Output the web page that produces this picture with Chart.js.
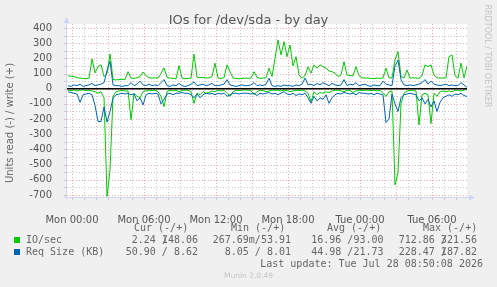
<!DOCTYPE html>
<html>
<head>
<meta charset="utf-8">
<title>IOs for /dev/sda - by day</title>
<script src="https://cdn.jsdelivr.net/npm/chart.js@4.4.1/dist/chart.umd.min.js"></script>
<style>
  body { margin: 0; background: #f0f0f0; }
  #wrap { position: relative; width: 497px; height: 287px; overflow: hidden; background: #f0f0f0; color: #666; font-family: "DejaVu Sans", sans-serif; }
  #chart { position: absolute; left: 0; top: 0; }
  .t { position: absolute; white-space: pre; line-height: 1; }
  .mono { font-family: "DejaVu Sans Mono", monospace; font-size: 10px; }
  .box { position: absolute; width: 6px; height: 6px; }
</style>
</head>
<body>
<div id="wrap">
  <canvas id="chart" width="497" height="287"></canvas>
  <div class="t" style="left:0;width:497px;top:13px;text-align:center;font-size:13px;color:#555">IOs for /dev/sda - by day</div>
  <div class="t" style="left:-90px;top:118px;width:200px;height:10px;font-size:10px;text-align:center;transform:rotate(-90deg)">Units read (-) / write (+)</div>
  <div class="t" style="left:387px;top:52px;width:200px;height:8px;font-size:8px;text-align:center;color:#c4c4c4;transform:rotate(90deg)">RRDTOOL / TOBI OETIKER</div>
  <div id="legend"></div>
  <div class="t mono" style="right:14px;top:258.5px">Last update: Tue Jul 28 08:50:08 2026</div>
  <div class="t" style="left:0;width:497px;text-align:center;top:272px;font-size:7.5px;color:#c4c4c4">Munin 2.0.49</div>
</div>
<script>
  /* =========================
     DATOS (cada 15 min, desde Mon 00:00 - 20 min)
  ==========================*/
  const startHour = -0.33;
  const stepHour = 0.25;

  const ioWrite = [
    85, 82, 80, 72, 70, 68, 65, 70, 196, 104,
    145, 157, 80, 100, 229, 60, 58, 60, 62, 60,
    112, 70, 68, 72, 80, 110, 85, 72, 70, 72,
    70, 100, 137, 75, 70, 68, 65, 152, 70, 65,
    68, 70, 227, 75, 72, 75, 70, 72, 80, 168,
    70, 68, 72, 157, 112, 70, 68, 65, 68, 70,
    68, 70, 112, 75, 68, 70, 72, 135, 80, 200,
    321, 222, 310, 211, 288, 150, 211, 91, 69, 85,
    145, 102, 157, 135, 157, 145, 135, 117, 112, 102,
    80, 91, 178, 90, 88, 85, 145, 85, 72, 70,
    70, 68, 66, 70, 68, 72, 135, 72, 70, 190,
    244, 80, 70, 124, 70, 72, 70, 68, 85, 157,
    145, 157, 91, 72, 70, 70, 72, 211, 222, 85,
    70, 168, 72, 148
  ];
  const ioRead = [
    -10, -12, -8, -15, -10, -8, -12, -10, -15, -20,
    -30, -20, -60, -710, -534, -50, -20, -15, -10, -15,
    -15, -205, -30, -50, -60, -20, -15, -10, -12, -10,
    -20, -50, -118, -20, -10, -15, -10, -20, -12, -10,
    -10, -20, -96, -30, -40, -20, -30, -25, -15, -20,
    -10, -15, -10, -30, -50, -20, -10, -12, -10, -8,
    -10, -12, -40, -20, -10, -12, -20, -15, -10, -10,
    -10, -15, -10, -12, -20, -15, -10, -12, -10, -15,
    -30, -85, -20, -40, -25, -30, -20, -25, -15, -10,
    -10, -15, -20, -10, -12, -25, -15, -10, -12, -10,
    -10, -12, -10, -15, -10, -30, -50, -20, -15, -633,
    -555, -100, -30, -15, -12, -10, -15, -239, -40, -30,
    -40, -230, -30, -50, -20, -15, -20, -15, -20, -10,
    -10, -15, -10, -2
  ];
  const sizeWrite = [
    20, 15, 25, 20, 30, 15, 20, 25, 35, 20,
    25, 30, 40, 120, 180, 25, 20, 20, 15, 20,
    20, 40, 20, 30, 50, 25, 20, 30, 20, 25,
    20, 40, 60, 20, 15, 25, 20, 35, 20, 15,
    20, 30, 45, 20, 25, 30, 20, 25, 35, 20,
    20, 25, 30, 60, 25, 20, 15, 20, 25, 20,
    20, 25, 40, 20, 25, 20, 30, 70, 20, 15,
    20, 15, 25, 20, 20, 15, 25, 20, 30, 70,
    25, 30, 20, 35, 25, 40, 30, 20, 35, 25,
    20, 25, 60, 20, 30, 25, 40, 20, 25, 30,
    20, 15, 25, 20, 20, 50, 30, 25, 20, 150,
    188, 60, 25, 20, 25, 20, 25, 30, 40, 60,
    30, 50, 30, 25, 20, 25, 30, 20, 25, 20,
    20, 40, 25, 9
  ];
  const sizeRead = [
    -20, -25, -30, -35, -90, -40, -35, -30, -40, -110,
    -216, -216, -120, -220, -150, -60, -40, -35, -30, -35,
    -30, -40, -35, -80, -60, -107, -40, -30, -35, -30,
    -35, -100, -70, -35, -30, -40, -30, -30, -25, -30,
    -30, -40, -60, -35, -60, -40, -30, -35, -30, -40,
    -30, -35, -30, -50, -40, -30, -30, -35, -30, -30,
    -30, -35, -30, -45, -30, -35, -30, -25, -35, -30,
    -40, -30, -20, -35, -40, -30, -45, -35, -40, -30,
    -60, -96, -50, -80, -60, -70, -40, -96, -60, -40,
    -30, -35, -25, -30, -35, -30, -40, -25, -30, -30,
    -35, -30, -40, -30, -35, -40, -223, -200, -35, -100,
    -150, -60, -40, -35, -30, -35, -40, -80, -60, -100,
    -70, -120, -80, -150, -90, -60, -50, -40, -50, -35,
    -40, -30, -45, -51
  ];

  const tickHours = [0, 6, 12, 18, 24, 30];
  const tickNames = ["Mon 00:00", "Mon 06:00", "Mon 12:00", "Mon 18:00", "Tue 00:00", "Tue 06:00"];

  const legendNames = ["IO/sec", "Req Size (KB)"];
  const legendColors = ["#00cc00", "#0066b3"];
  const legendCur = ["2.24 148.06", "50.90 / 8.62"];
  const legendMin = ["267.69m/53.91", "8.05 / 8.01"];
  const legendAvg = ["16.96 /93.00", "44.98 /21.73"];
  const legendMax = ["712.86 321.56", "228.47 187.82"];

  /* =========================
     LEYENDA (texto)
  ==========================*/
  const legend = document.getElementById("legend");
  const charW = 6.02;

  function addText(txt, style) {
    const d = document.createElement("div");
    d.className = "t mono";
    d.textContent = txt;
    d.setAttribute("style", style);
    legend.appendChild(d);
  }

  addText("Cur (-/+)", "left:134px;top:222.5px");
  addText("Min (-/+)", "left:231px;top:222.5px");
  addText("Avg (-/+)", "left:327px;top:222.5px");
  addText("Max (-/+)", "left:423px;top:222.5px");

  legendNames.forEach((name, i) => {
    const top = 234.5 + i * 12;
    const b = document.createElement("div");
    b.className = "box";
    b.style.left = "14px";
    b.style.top = top + 2.5 + "px";
    b.style.background = legendColors[i];
    legend.appendChild(b);
    addText(name, `left:26px;top:${top}px`);
    addText(legendCur[i], `right:${497 - 198}px;top:${top}px`);
    addText(legendMin[i], `right:${497 - 291}px;top:${top}px`);
    addText(legendAvg[i], `right:${497 - 383.5}px;top:${top}px`);
    addText(legendMax[i], `right:${497 - 477}px;top:${top}px`);
  });
  // barras "/" que se montan sobre la cifra siguiente
  addText("/", `left:${198 - 6 * charW}px;top:234.5px`);
  addText("/", `left:${477 - 6 * charW}px;top:234.5px`);
  addText("/", `left:${477 - 6 * charW}px;top:246.5px`);

  /* =========================
     GRÁFICO
  ==========================*/
  const toPoints = (arr) => arr.map((v, i) => ({ x: startHour + i * stepHour, y: v }));

  const gridMajor = "rgba(235,120,120,0.6)";
  const gridMinor = "rgba(160,160,160,0.55)";

  const munin = {
    id: "munin",
    beforeDraw(chart) {
      const { ctx, chartArea: a } = chart;
      ctx.save();
      ctx.fillStyle = "#f0f0f0";
      ctx.fillRect(0, 0, chart.width, chart.height);
      ctx.fillStyle = "#ffffff";
      ctx.fillRect(a.left, a.top, a.right - a.left, a.bottom - a.top);
      ctx.restore();
    },
    beforeDatasetsDraw(chart) {
      // rejilla punteada estilo rrdtool
      const { ctx, chartArea: a, scales } = chart;
      ctx.save();
      ctx.lineWidth = 1;
      ctx.setLineDash([1, 2]);
      scales.x.ticks.forEach((t) => {
        const px = Math.round(scales.x.getPixelForValue(t.value)) + 0.5;
        ctx.strokeStyle = t.value % 3 === 0 ? gridMajor : gridMinor;
        ctx.beginPath();
        ctx.moveTo(px, a.top);
        ctx.lineTo(px, a.bottom);
        ctx.stroke();
      });
      scales.y.ticks.forEach((t) => {
        const py = Math.round(scales.y.getPixelForValue(t.value)) + 0.5;
        ctx.strokeStyle = t.value % 100 === 0 ? gridMajor : gridMinor;
        ctx.beginPath();
        ctx.moveTo(a.left, py);
        ctx.lineTo(a.right, py);
        ctx.stroke();
      });
      ctx.restore();
    },
    afterDatasetsDraw(chart) {
      const { ctx, chartArea: a, scales } = chart;
      const y0 = scales.y.getPixelForValue(0);
      ctx.save();
      ctx.strokeStyle = "#000";
      ctx.lineWidth = 1.5;
      ctx.beginPath();
      ctx.moveTo(a.left, y0);
      ctx.lineTo(a.right, y0);
      ctx.stroke();
      ctx.restore();
    },
    afterDraw(chart) {
      const { ctx, chartArea: a, scales } = chart;
      ctx.save();
      ctx.strokeStyle = "#cfd6f8";
      ctx.fillStyle = "#cfd6f8";
      ctx.lineWidth = 1;
      ctx.beginPath();
      ctx.moveTo(a.left - 0.5, a.bottom + 2);
      ctx.lineTo(a.left - 0.5, a.top - 2);
      ctx.moveTo(a.left - 3, a.bottom + 0.5);
      ctx.lineTo(a.right + 3, a.bottom + 0.5);
      ctx.stroke();
      ctx.beginPath();
      ctx.moveTo(a.left - 3.5, a.top - 1);
      ctx.lineTo(a.left + 2.5, a.top - 1);
      ctx.lineTo(a.left - 0.5, a.top - 7);
      ctx.closePath();
      ctx.fill();
      ctx.beginPath();
      ctx.moveTo(a.right + 2, a.bottom - 2.5);
      ctx.lineTo(a.right + 2, a.bottom + 3.5);
      ctx.lineTo(a.right + 8, a.bottom + 0.5);
      ctx.closePath();
      ctx.fill();
      // pequeñas marcas en los ejes
      ctx.strokeStyle = "#c8c8c8";
      ctx.beginPath();
      scales.y.ticks.forEach((t) => {
        const py = Math.round(scales.y.getPixelForValue(t.value)) + 0.5;
        ctx.moveTo(a.left - 3, py);
        ctx.lineTo(a.left - 1, py);
      });
      scales.x.ticks.forEach((t) => {
        const px = Math.round(scales.x.getPixelForValue(t.value)) + 0.5;
        ctx.moveTo(px, a.bottom + 1);
        ctx.lineTo(px, a.bottom + 3);
      });
      ctx.stroke();
      ctx.restore();
    },
  };

  Chart.defaults.font.family = '"DejaVu Sans", sans-serif';

  new Chart(document.getElementById("chart"), {
    type: "line",
    data: {
      datasets: [
        { label: "Req Size read", data: toPoints(sizeRead), borderColor: "#0066b3", order: 1 },
        { label: "Req Size write", data: toPoints(sizeWrite), borderColor: "#0066b3", order: 1 },
        { label: "IO/sec read", data: toPoints(ioRead), borderColor: "#00cc00", order: 2 },
        { label: "IO/sec write", data: toPoints(ioWrite), borderColor: "#00cc00", order: 2 },
      ],
    },
    options: {
      responsive: false,
      animation: false,
      devicePixelRatio: 1,
      layout: { padding: { left: 0, top: 24, right: 30, bottom: 0 } },
      elements: {
        point: { radius: 0 },
        line: { borderWidth: 1, tension: 0, fill: false },
      },
      plugins: { legend: { display: false }, tooltip: { enabled: false } },
      scales: {
        x: {
          type: "linear",
          min: -5 / 12,
          max: 32.92,
          afterFit: (s) => { s.height = 90; },
          border: { display: false },
          grid: { display: false },
          ticks: {
            stepSize: 1,
            includeBounds: false,
            autoSkip: false,
            maxRotation: 0,
            padding: 9,
            color: "#555",
            font: { size: 10 },
            callback: (v) => {
              const k = tickHours.indexOf(v);
              return k >= 0 ? tickNames[k] : "";
            },
          },
        },
        y: {
          min: -713,
          max: 426,
          afterFit: (s) => { s.width = 67; },
          border: { display: false },
          grid: { display: false },
          ticks: {
            stepSize: 50,
            includeBounds: false,
            autoSkip: false,
            padding: 7,
            color: "#555",
            font: { size: 10 },
            callback: (v) => (v % 100 === 0 ? String(v) : ""),
          },
        },
      },
    },
    plugins: [munin],
  });
</script>
</body>
</html>
